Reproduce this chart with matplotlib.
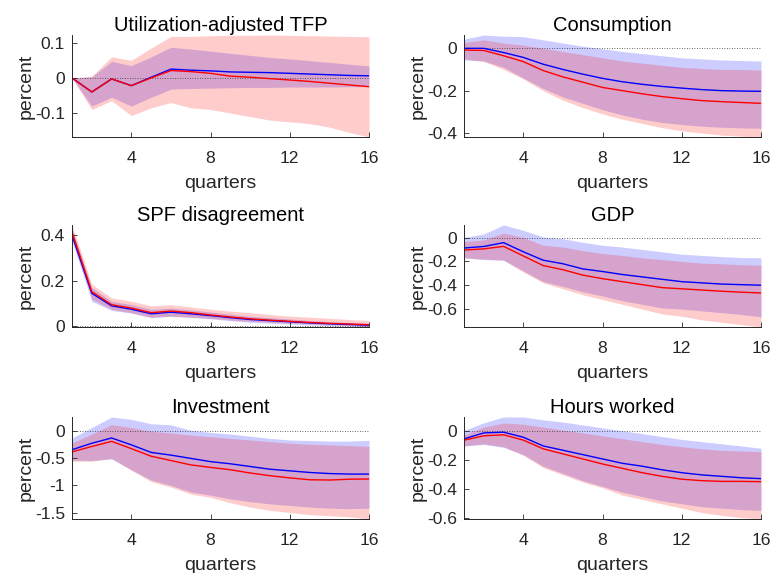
import numpy as np
import matplotlib
matplotlib.use("Agg")
import matplotlib.pyplot as plt

plt.rcParams['font.family'] = ['Liberation Sans', 'DejaVu Sans']

quarters = np.arange(1, 17)

titles = ["Utilization-adjusted TFP", "Consumption", "SPF disagreement",
          "GDP", "Investment", "Hours worked"]

# median responses (blue / red) and 68% bands for each variable
tfp_blue = [0, -0.04, -0.003, -0.022, 0.002, 0.025, 0.022, 0.02, 0.017, 0.016, 0.015, 0.013, 0.011, 0.009, 0.007, 0.006]
tfp_red = [0, -0.04, -0.003, -0.022, 0.0, 0.021, 0.018, 0.013, 0.005, 0.002, -0.002, -0.006, -0.010, -0.015, -0.020, -0.025]
tfp_blue_hi = [0, 0.003, 0.047, 0.035, 0.06, 0.087, 0.082, 0.076, 0.07, 0.064, 0.058, 0.054, 0.049, 0.044, 0.039, 0.034]
tfp_blue_lo = [0, -0.08, -0.055, -0.08, -0.055, -0.032, -0.03, -0.029, -0.028, -0.027, -0.027, -0.026, -0.026, -0.026, -0.025, -0.025]
tfp_red_hi = [0, 0.005, 0.06, 0.05, 0.085, 0.118, 0.118, 0.12, 0.121, 0.121, 0.122, 0.121, 0.12, 0.119, 0.118, 0.117]
tfp_red_lo = [0, -0.09, -0.065, -0.107, -0.085, -0.07, -0.085, -0.09, -0.1, -0.11, -0.12, -0.125, -0.13, -0.14, -0.155, -0.168]

cons_blue = [0.0, 0.0, -0.02, -0.043, -0.075, -0.1, -0.122, -0.142, -0.158, -0.17, -0.18, -0.188, -0.195, -0.2, -0.202, -0.203]
cons_red = [-0.008, -0.01, -0.035, -0.063, -0.105, -0.135, -0.16, -0.185, -0.2, -0.215, -0.228, -0.238, -0.247, -0.252, -0.256, -0.26]
cons_blue_hi = [0.043, 0.063, 0.057, 0.055, 0.04, 0.025, 0.01, -0.002, -0.015, -0.025, -0.035, -0.045, -0.05, -0.055, -0.058, -0.06]
cons_blue_lo = [-0.055, -0.06, -0.09, -0.14, -0.19, -0.23, -0.26, -0.29, -0.315, -0.335, -0.35, -0.36, -0.368, -0.373, -0.376, -0.378]
cons_red_hi = [0.027, 0.04, 0.025, 0.015, 0.0, -0.015, -0.03, -0.045, -0.06, -0.07, -0.08, -0.09, -0.095, -0.1, -0.1, -0.103]
cons_red_lo = [-0.05, -0.062, -0.1, -0.145, -0.2, -0.245, -0.28, -0.31, -0.335, -0.355, -0.375, -0.39, -0.4, -0.41, -0.415, -0.419]

spf_blue = [0.40, 0.145, 0.09, 0.075, 0.055, 0.062, 0.055, 0.047, 0.038, 0.03, 0.025, 0.02, 0.015, 0.011, 0.008, 0.005]
spf_red = [0.415, 0.152, 0.095, 0.08, 0.06, 0.067, 0.06, 0.05, 0.041, 0.033, 0.027, 0.022, 0.017, 0.013, 0.01, 0.007]
spf_blue_hi = [0.425, 0.17, 0.11, 0.095, 0.075, 0.08, 0.072, 0.063, 0.053, 0.044, 0.038, 0.032, 0.026, 0.021, 0.017, 0.013]
spf_blue_lo = [0.375, 0.11, 0.07, 0.058, 0.038, 0.044, 0.039, 0.033, 0.025, 0.018, 0.014, 0.01, 0.006, 0.003, 0.001, -0.002]
spf_red_hi = [0.445, 0.185, 0.125, 0.11, 0.09, 0.095, 0.085, 0.075, 0.067, 0.06, 0.052, 0.045, 0.04, 0.035, 0.03, 0.025]
spf_red_lo = [0.39, 0.12, 0.075, 0.06, 0.04, 0.045, 0.04, 0.035, 0.028, 0.022, 0.018, 0.014, 0.011, 0.008, 0.004, -0.003]

gdp_blue = [-0.088, -0.075, -0.043, -0.12, -0.19, -0.22, -0.263, -0.285, -0.31, -0.33, -0.35, -0.37, -0.38, -0.39, -0.395, -0.40]
gdp_red = [-0.105, -0.095, -0.074, -0.155, -0.235, -0.27, -0.315, -0.345, -0.37, -0.395, -0.42, -0.43, -0.44, -0.45, -0.458, -0.465]
gdp_blue_hi = [0.0, 0.03, 0.105, 0.06, 0.005, -0.01, -0.04, -0.065, -0.08, -0.1, -0.12, -0.14, -0.15, -0.16, -0.168, -0.17]
gdp_blue_lo = [-0.17, -0.185, -0.19, -0.28, -0.37, -0.41, -0.455, -0.49, -0.53, -0.56, -0.59, -0.6, -0.615, -0.63, -0.645, -0.665]
gdp_red_hi = [-0.034, -0.02, 0.037, 0.0, -0.065, -0.08, -0.11, -0.135, -0.15, -0.17, -0.185, -0.2, -0.215, -0.22, -0.228, -0.232]
gdp_red_lo = [-0.17, -0.18, -0.19, -0.29, -0.38, -0.43, -0.48, -0.52, -0.56, -0.6, -0.64, -0.66, -0.69, -0.71, -0.73, -0.75]

inv_blue = [-0.34, -0.22, -0.123, -0.25, -0.39, -0.44, -0.5, -0.56, -0.6, -0.65, -0.7, -0.73, -0.76, -0.78, -0.79, -0.79]
inv_red = [-0.38, -0.28, -0.185, -0.32, -0.46, -0.54, -0.62, -0.667, -0.71, -0.77, -0.82, -0.86, -0.895, -0.9, -0.885, -0.88]
inv_blue_hi = [-0.123, 0.07, 0.265, 0.22, 0.14, 0.12, 0.02, -0.02, -0.05, -0.09, -0.13, -0.16, -0.17, -0.18, -0.18, -0.167]
inv_blue_lo = [-0.53, -0.54, -0.51, -0.71, -0.9, -1.0, -1.12, -1.18, -1.25, -1.3, -1.34, -1.37, -1.4, -1.42, -1.43, -1.42]
inv_red_hi = [-0.216, -0.05, 0.123, 0.07, 0.0, -0.03, -0.07, -0.1, -0.13, -0.16, -0.19, -0.22, -0.24, -0.25, -0.265, -0.278]
inv_red_lo = [-0.555, -0.55, -0.5, -0.72, -0.93, -1.03, -1.16, -1.22, -1.32, -1.4, -1.46, -1.5, -1.54, -1.56, -1.58, -1.62]

hrs_blue = [-0.051, -0.01, -0.005, -0.04, -0.1, -0.13, -0.16, -0.19, -0.22, -0.24, -0.265, -0.285, -0.3, -0.31, -0.32, -0.326]
hrs_red = [-0.06, -0.03, -0.023, -0.06, -0.12, -0.155, -0.19, -0.225, -0.255, -0.285, -0.31, -0.33, -0.34, -0.345, -0.345, -0.347]
hrs_blue_hi = [0.007, 0.06, 0.1, 0.1, 0.08, 0.065, 0.045, 0.025, 0.005, -0.015, -0.035, -0.055, -0.07, -0.085, -0.1, -0.116]
hrs_blue_lo = [-0.1, -0.09, -0.11, -0.16, -0.24, -0.29, -0.34, -0.38, -0.42, -0.45, -0.48, -0.5, -0.52, -0.53, -0.54, -0.545]
hrs_red_hi = [-0.025, 0.03, 0.058, 0.05, 0.03, 0.01, -0.01, -0.03, -0.05, -0.07, -0.09, -0.105, -0.12, -0.13, -0.135, -0.14]
hrs_red_lo = [-0.1, -0.085, -0.105, -0.165, -0.25, -0.3, -0.35, -0.39, -0.44, -0.47, -0.5, -0.53, -0.56, -0.58, -0.595, -0.605]

panels = [
    (tfp_blue, tfp_red, tfp_blue_lo, tfp_blue_hi, tfp_red_lo, tfp_red_hi, [-0.1, 0, 0.1], ['-0.1', '0', '0.1']),
    (cons_blue, cons_red, cons_blue_lo, cons_blue_hi, cons_red_lo, cons_red_hi, [-0.4, -0.2, 0], ['-0.4', '-0.2', '0']),
    (spf_blue, spf_red, spf_blue_lo, spf_blue_hi, spf_red_lo, spf_red_hi, [0, 0.2, 0.4], ['0', '0.2', '0.4']),
    (gdp_blue, gdp_red, gdp_blue_lo, gdp_blue_hi, gdp_red_lo, gdp_red_hi, [-0.6, -0.4, -0.2, 0], ['-0.6', '-0.4', '-0.2', '0']),
    (inv_blue, inv_red, inv_blue_lo, inv_blue_hi, inv_red_lo, inv_red_hi, [-1.5, -1, -0.5, 0], ['-1.5', '-1', '-0.5', '0']),
    (hrs_blue, hrs_red, hrs_blue_lo, hrs_blue_hi, hrs_red_lo, hrs_red_hi, [-0.6, -0.4, -0.2, 0], ['-0.6', '-0.4', '-0.2', '0']),
]

fig = plt.figure(figsize=(7.71, 5.73), dpi=100)

lefts = [72 / 771, 464 / 771]
width = 297 / 771
bottoms = [1 - 137 / 573, 1 - 327 / 573, 1 - 519 / 573]
height = 102 / 573
axis_gray = '#262626'

for k, (blue, red, b_lo, b_hi, r_lo, r_hi, yt, ytl) in enumerate(panels):
    row, col = divmod(k, 2)
    ax = fig.add_axes([lefts[col], bottoms[row], width, height])

    ax.fill_between(quarters, b_lo, b_hi, color='b', alpha=0.2, lw=0)
    ax.fill_between(quarters, r_lo, r_hi, color='r', alpha=0.2, lw=0)
    ax.axhline(0, color='#333333', ls=(0, (1, 2)), lw=0.6)
    ax.plot(quarters, blue, color='b', lw=1.0)
    ax.plot(quarters, red, color='r', lw=1.0)

    # tight limits around the bands
    lo = min(min(b_lo), min(r_lo))
    hi = max(max(b_hi), max(r_hi))
    ax.set_xlim(1, 16)
    ax.set_ylim(lo, hi)

    ax.set_xticks([4, 8, 12, 16])
    ax.set_yticks(yt)
    ax.set_yticklabels(ytl)
    ax.tick_params(direction='in', length=3.5, width=0.6, colors=axis_gray,
                   labelsize=12.6)
    ax.tick_params(axis='x', pad=10)
    ax.tick_params(axis='y', pad=5)
    for side in ['top', 'right']:
        ax.spines[side].set_visible(False)
    for side in ['left', 'bottom']:
        ax.spines[side].set_color(axis_gray)
        ax.spines[side].set_linewidth(0.7)

    ax.set_title(titles[k], fontsize=14.5, pad=3)
    ax.set_xlabel('quarters', fontsize=14, color=axis_gray)
    ax.set_ylabel('percent', fontsize=14, color=axis_gray)
    ax.yaxis.set_label_coords(-0.125, 0.5)
    ax.xaxis.set_label_coords(0.5, -0.37)

fig.savefig('out.png', dpi=100)
